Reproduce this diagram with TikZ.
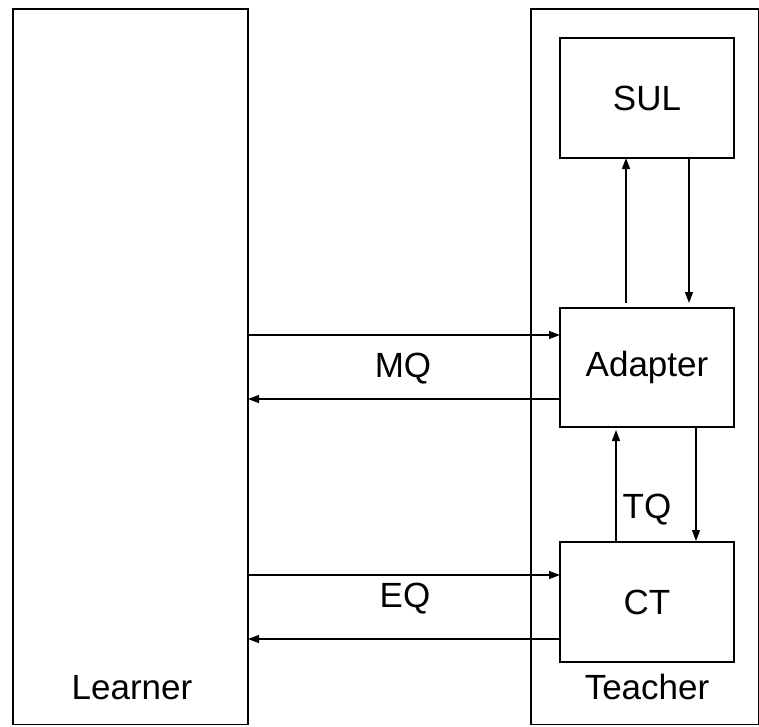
\documentclass[tikz,border=0pt]{standalone}
\usepackage{fontspec}
\setmainfont{Liberation Sans}
\usetikzlibrary{arrows.meta}
\begin{document}
\begin{tikzpicture}[x=1pt,y=-1pt,
  frame/.style={draw, line width=1.6pt, inner sep=0pt, outer sep=0pt},
  box/.style={draw, line width=1.5pt, inner sep=0pt, outer sep=0pt, minimum width=174pt, minimum height=120pt, font=\fontsize{35}{42}\selectfont},
  txt/.style={inner sep=0pt, font=\fontsize{35}{42}\selectfont},
  conn/.style={line width=1.4pt, -{Triangle[length=11pt,width=8pt]}}]
\useasboundingbox (0,0) rectangle (759,726);
\node[frame, minimum width=235pt, minimum height=715.5pt] (learner) at (130.5,366.75) {};
\node[frame, minimum width=228pt, minimum height=715.5pt] (teacher) at (645,366.75) {};
\node[txt] (learnerlbl) at (132,688) {Learner};
\node[txt] (teacherlbl) at (647,687) {Teacher};
\node[box] (sul) at (647,98) {SUL};
\node[box, minimum height=119pt] (adapter) at (647,367.5) {Adapter};
\node[box] (ct) at (647,602) {CT};
% SUL <-> Adapter
\coordinate (a1) at (626,303);
\coordinate (a2) at (689,303);
\draw[conn] (a1) -- (a1 |- sul.south);
\draw[conn] (sul.south -| a2) -- (a2);
% Adapter <-> CT
\coordinate (c1) at (616,430);
\coordinate (c2) at (696,541);
\draw[conn] (ct.north -| c1) -- (c1);
\draw[conn] (adapter.south -| c2) -- (c2);
% Learner <-> Adapter
\draw[conn] (learner.east |- 0,335) -- (adapter.west |- 0,335);
\draw[conn] (adapter.west |- 0,399) -- (learner.east |- 0,399);
% Learner <-> CT
\draw[conn] (learner.east |- 0,575) -- (ct.west |- 0,575);
\draw[conn] (ct.west |- 0,639) -- (learner.east |- 0,639);
% labels
\node[txt] (mq) at (403,369) {MQ};
\node[txt] (eq) at (405,599) {EQ};
\node[txt] (tq) at (647,510) {TQ};
\end{tikzpicture}
\end{document}
